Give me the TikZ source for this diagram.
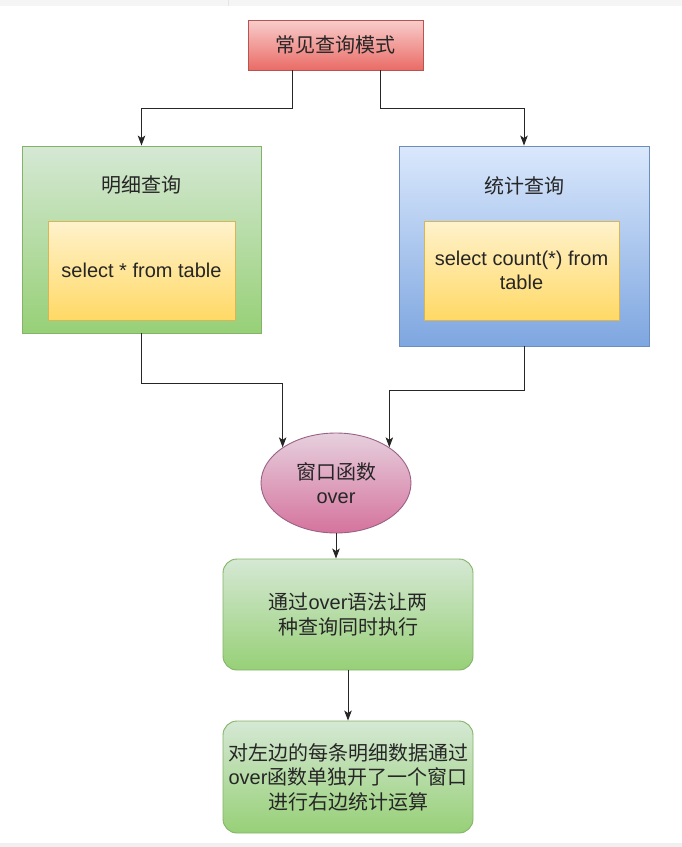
\documentclass[tikz,border=0pt]{standalone}
\usepackage{fontspec}
\setmainfont{Liberation Sans}
\newfontfamily\cjk{Noto Sans CJK SC}
\usetikzlibrary{shapes.geometric,arrows.meta}
\definecolor{rTop}{HTML}{F8CECC}\definecolor{rBot}{HTML}{EA6B66}\definecolor{rLine}{HTML}{B85450}
\definecolor{gTop}{HTML}{D5E8D4}\definecolor{gBot}{HTML}{97D077}\definecolor{gLine}{HTML}{82B366}
\definecolor{bTop}{HTML}{DAE8FC}\definecolor{bBot}{HTML}{7EA6E0}\definecolor{bLine}{HTML}{6C8EBF}
\definecolor{yTop}{HTML}{FFF2CC}\definecolor{yBot}{HTML}{FFD966}\definecolor{yLine}{HTML}{D6B656}
\definecolor{pTop}{HTML}{E6D0DE}\definecolor{pBot}{HTML}{D5739D}\definecolor{pLine}{HTML}{996185}
\definecolor{txt}{HTML}{262626}
\begin{document}
\begin{tikzpicture}[x=1pt,y=-1pt,
  every node/.style={font=\fontsize{20}{24.5}\selectfont, text=txt, inner sep=0pt, align=center},
  base/.style={draw, line width=0.9pt},
  redbox/.style={base, draw=rLine, top color=rTop, bottom color=rBot},
  greenbox/.style={base, draw=gLine, top color=gTop, bottom color=gBot},
  bluebox/.style={base, draw=bLine, top color=bTop, bottom color=bBot},
  yellowbox/.style={base, draw=yLine, top color=yTop, bottom color=yBot},
  pinkell/.style={base, ellipse, draw=pLine, top color=pTop, bottom color=pBot},
  arr/.style={line width=0.9pt, draw=txt, -{Stealth[length=10pt,width=7.5pt,inset=2.5pt]}}
]
\useasboundingbox (0,0) rectangle (682,847);
\fill[gray!8] (0,0) rectangle (682,6);
\draw[gray!20] (228,0) -- (228,6);
\fill[gray!12] (0,843) rectangle (682,847);

\node[redbox, minimum width=175pt, minimum height=50pt] (top) at (335.5,45) {{\cjk 常见查询模式}};

\node[greenbox, minimum width=239pt, minimum height=187pt] (L) at (141.5,239.5) {};
\node (Lt) at (141.5,185) {{\cjk 明细查询}};
\node[yellowbox, minimum width=187pt, minimum height=99pt] (Ly) at (141.5,270.5) {select * from table};

\node[bluebox, minimum width=250pt, minimum height=200pt] (R) at (524,246) {};
\node (Rt) at (524,186) {{\cjk 统计查询}};
\node[yellowbox, minimum width=195pt, minimum height=99pt] (Ry) at (521.5,270.5) {select count(*) from\\table};

\node[pinkell, minimum width=150pt, minimum height=100pt] (E) at (336,483) {{\cjk 窗口函数}\\over};

\node[greenbox, rounded corners=14pt, minimum width=250pt, minimum height=111pt] (B3) at (348,614.5)
  {{\cjk 通过}over{\cjk 语法让两}\\{\cjk 种查询同时执行}};
\node[greenbox, rounded corners=14pt, minimum width=250pt, minimum height=112pt] (B4) at (348,777)
  {{\cjk 对左边的每条明细数据通过}\\over{\cjk 函数单独开了一个窗口}\\{\cjk 进行右边统计运算}};

\draw[arr] ([xshift=-43.5pt]top.south) -- ++(0,38) -| (L.north);
\draw[arr] ([xshift=44.5pt]top.south) -- ++(0,38) -| (R.north);
\draw[arr] (L.south) -- ++(0,50) -| (E.north west);
\draw[arr] (R.south) -- ++(0,44) -| (E.north east);
\draw[arr] (E.south) -- (E.south |- B3.north);
\draw[arr] (B3.south) -- (B4.north);
\end{tikzpicture}
\end{document}
